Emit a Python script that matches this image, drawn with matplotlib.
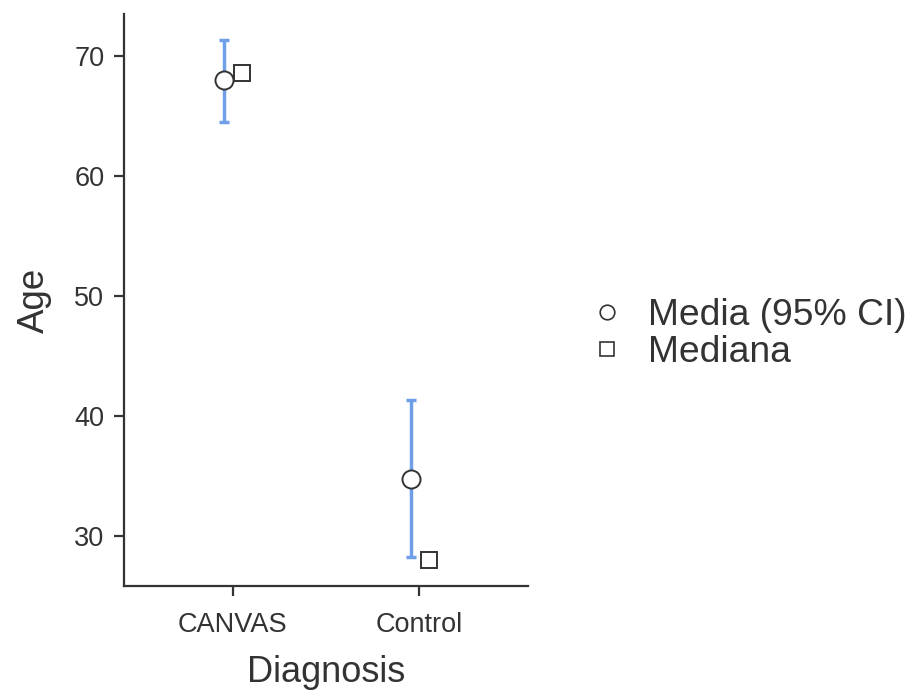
import matplotlib
matplotlib.use('Agg')
from matplotlib import pyplot as plt
from matplotlib.lines import Line2D

plt.rcParams['font.family'] = ['Liberation Sans', 'DejaVu Sans']

# data
groups = ['CANVAS', 'Control']
means = [68.0, 34.7]
ci_low = [64.5, 28.2]
ci_high = [71.3, 41.3]
medians = [68.6, 28.0]

dark = '#333333'
blue = '#6f9fe8'

fig = plt.figure(figsize=(9.1, 6.95), dpi=100)
ax = fig.add_axes([0.136, 0.157, 0.444, 0.823])

pos = list(range(1, len(groups) + 1))
mpos = [p - 0.045 for p in pos]
medpos = [p + 0.05 for p in pos]

err_lo = [m - l for m, l in zip(means, ci_low)]
err_hi = [h - m for m, h in zip(means, ci_high)]
ax.errorbar(mpos, means, yerr=[err_lo, err_hi], fmt='none', ecolor=blue,
            elinewidth=2.5, capsize=3.5, capthick=2.5, zorder=2)
ax.plot(mpos, means, 'o', ms=13, mfc='white', mec=dark, mew=1.4, zorder=3)
ax.plot(medpos, medians, 's', ms=11.5, mfc='white', mec=dark, mew=1.4, zorder=3)

ax.set_xlim(0.417, 2.58)
ax.set_ylim(25.8, 73.5)
ax.set_xticks(pos)
ax.set_xticklabels(groups)
ax.set_yticks([30, 40, 50, 60, 70])
ax.tick_params(colors=dark, labelsize=19.5, width=1.6, length=7)
ax.tick_params(axis='y', pad=7)
ax.tick_params(axis='x', pad=12)
for s in ['top', 'right']:
    ax.spines[s].set_visible(False)
for s in ['left', 'bottom']:
    ax.spines[s].set_color(dark)
    ax.spines[s].set_linewidth(1.6)

ax.set_xlabel('Diagnosis', fontsize=26, color=dark, labelpad=12)
ax.set_ylabel('Age', fontsize=26.5, color=dark, labelpad=16)

handles = [
    Line2D([], [], marker='o', ls='none', ms=10.5, mfc='white', mec=dark, mew=1.2),
    Line2D([], [], marker='s', ls='none', ms=9.5, mfc='white', mec=dark, mew=1.2),
]
fig.legend(handles, ['Media (95% CI)', 'Mediana'], loc='center left',
           bbox_to_anchor=(0.651, 0.519), frameon=False, fontsize=26.8,
           labelcolor=dark, handlelength=0.8, handletextpad=0.7,
           labelspacing=0.05, borderaxespad=0, borderpad=0)

plt.savefig('out.png', dpi=100)
